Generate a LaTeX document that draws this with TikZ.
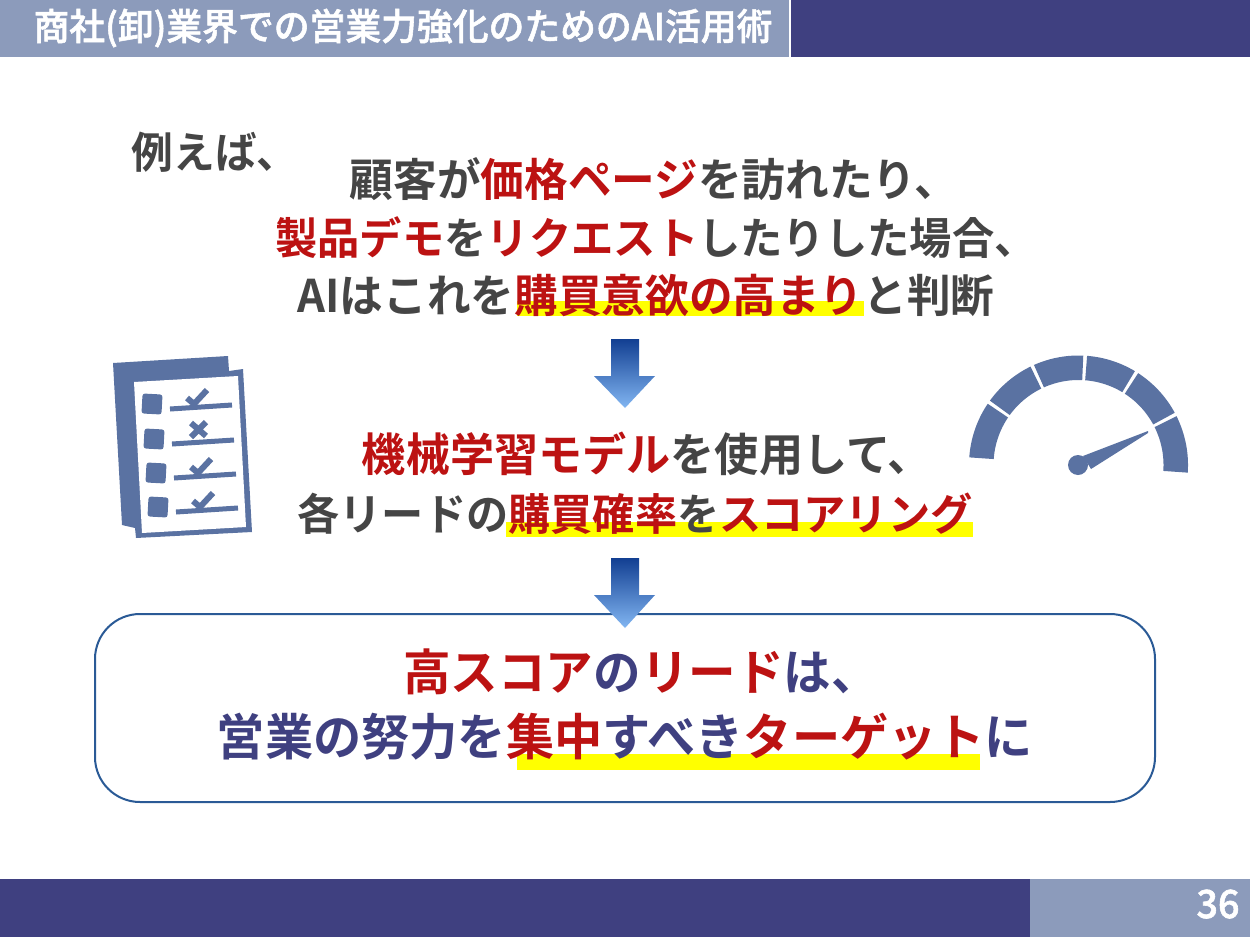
\documentclass[tikz,border=0pt]{standalone}
\usepackage{fontspec}
\setmainfont{Noto Sans CJK JP Bold}[FakeStretch=0.97]
\newfontfamily\titlefont{Noto Sans CJK JP Medium}[FakeStretch=0.97,FakeBold=1.5]
\usetikzlibrary{calc}
\definecolor{navy}{HTML}{3F4080}
\definecolor{steel}{HTML}{8C9BBB}
\definecolor{icon}{HTML}{5A72A2}
\definecolor{redtxt}{HTML}{BC1212}
\definecolor{graytxt}{HTML}{454545}
\definecolor{hlyellow}{HTML}{FFFF00}
\definecolor{boxline}{HTML}{2A5A96}
\definecolor{arrtop}{HTML}{123F92}
\definecolor{arrbot}{HTML}{82B6F2}
\newsavebox{\hlbox}
\newlength{\hlw}
% yellow band under text: #1 drop below baseline, #2 band height, #3 left inset, #4 right inset, #5 text
\newcommand{\hlband}[5]{\sbox{\hlbox}{#5}\setlength{\hlw}{\wd\hlbox}\addtolength{\hlw}{-#3}\addtolength{\hlw}{-#4}\leavevmode\rlap{\hspace{#3}\color{hlyellow}\raisebox{-#1}{\rule{\hlw}{#2}}}\usebox{\hlbox}}
\newcommand{\rd}[1]{{\color{redtxt}#1}}
\newcommand{\FS}[1]{\fontsize{#1pt}{#1pt}\selectfont}
\tikzset{
  x=1pt,y=-1pt,
  linetxt/.style={anchor=base,inner sep=0pt,text=graytxt},
  boxtxt/.style={anchor=base,inner sep=0pt,text=navy},
  downarrow/.style={top color=arrtop,bottom color=arrbot,draw=none},
  iconfill/.style={fill=icon,draw=none},
  iconline/.style={draw=icon,line width=5pt},
  seg/.style={fill=icon,draw=none},
}
\newcommand{\gaugeseg}[2]{\fill[seg,shift={(gc)}] plot[domain=#1:#2,samples=20] ({109.5*cos(\x)},{109.5*sin(\x)}) -- plot[domain=#2:#1,samples=20] ({85*cos(\x)},{85*sin(\x)}) -- cycle;}
\begin{document}
\begin{tikzpicture}
\useasboundingbox (0,0) rectangle (1250,937);
\fill[white] (0,0) rectangle (1250,937);
% bars
\fill[steel] (0,0) rectangle (789,57);
\fill[navy] (790.5,0) rectangle (1250,57);
\fill[navy] (0,879) rectangle (1030,937);
\fill[steel] (1030,879) rectangle (1250,937);
\node[anchor=base,inner sep=0pt,text=white,font=\titlefont\FS{36.9}] (title) at (403,40) {商社(卸)業界での営業力強化のためのAI活用術};
\node[anchor=base,inner sep=0pt,text=white,font=\titlefont\FS{39}] (pageno) at (1218,918) {36};
% text
\node[linetxt,font=\FS{43}] (ex) at (215,168) {例えば、};
\node[linetxt,font=\FS{45}] (l1) at (654,196) {顧客が\rd{価格ページ}を訪れたり、};
\node[linetxt,font=\FS{43.6}] (l2) at (656,254) {\rd{製品デモ}を\rd{リクエスト}したりした場合、};
\node[linetxt,font=\FS{45}] (l3) at (646,312) {AIはこれを\hlband{4pt}{15pt}{3pt}{0pt}{\rd{購買意欲の高まり}}と判断};
\node[linetxt,font=\FS{45.5}] (l4) at (647,471) {\rd{機械学習モデル}を使用して、};
\node[linetxt,font=\FS{43.5}] (l5) at (635,530) {各リードの\hlband{7pt}{15pt}{-2pt}{0pt}{\rd{購買確率}を\rd{スコアリング}}};
% box
\draw[boxline,line width=2pt,fill=white,rounded corners=45pt] (95,614) rectangle (1155,802);
\node[boxtxt,font=\FS{49}] (b1) at (641,690) {\rd{高スコア}の\rd{リード}は、};
\node[boxtxt,font=\FS{49.7}] (b2) at (625,755) {営業の努力を\hlband{15pt}{16pt}{11pt}{5pt}{\rd{集中}すべき\rd{ターゲット}}に};
% arrows
\path[downarrow] (611,339) -- (639,339) -- (639,376) -- (655,376) -- (625,408) -- (594,376) -- (611,376) -- cycle;
\path[downarrow] (611,558) -- (639,558) -- (639,595) -- (655,595) -- (625,628) -- (594,595) -- (611,595) -- cycle;
% checklist icon
\fill[iconfill] (113,363) -- (228,356) -- (229,371) -- (243,369) -- (252,532) -- (136,538) -- (135,528) -- (122,525) -- cycle;
\fill[white] (134,382) -- (238,376) -- (246,527) -- (142,533) -- cycle;
\foreach \dx/\dy/\nm in {0/0/a,2/35/b,4/69/c,6/103/d}{
  \fill[iconfill,rounded corners=2.5pt,rotate around={-3:(152+\dx,404+\dy)}] (142+\dx,394+\dy) rectangle (162+\dx,414+\dy);
  \draw[iconline] (170+\dx,409+\dy) -- (232+\dx,405+\dy);
}
\foreach \dx/\dy in {0/0,4/69,6/103}{
  \draw[iconline,line width=6pt] (187+\dx,398+\dy) -- (194+\dx,404+\dy) -- (207+\dx,390+\dy);
}
\draw[iconline,line width=6pt] (191,423) -- (206,436) (206,422) -- (191,437);
% gauge (y axis points down, so angles are negated)
\coordinate (gc) at (1078.5,465);
\gaugeseg{-176}{-146}
\gaugeseg{-144}{-116}
\gaugeseg{-114}{-87.5}
\gaugeseg{-85.5}{-59}
\gaugeseg{-57}{-28.5}
\gaugeseg{-26.5}{4}
\fill[iconfill] (1078,465) circle (10pt);
\fill[iconfill] (1083,456) -- (1148,431) -- (1148,433) -- (1091,469) -- cycle;
\end{tikzpicture}
\end{document}
